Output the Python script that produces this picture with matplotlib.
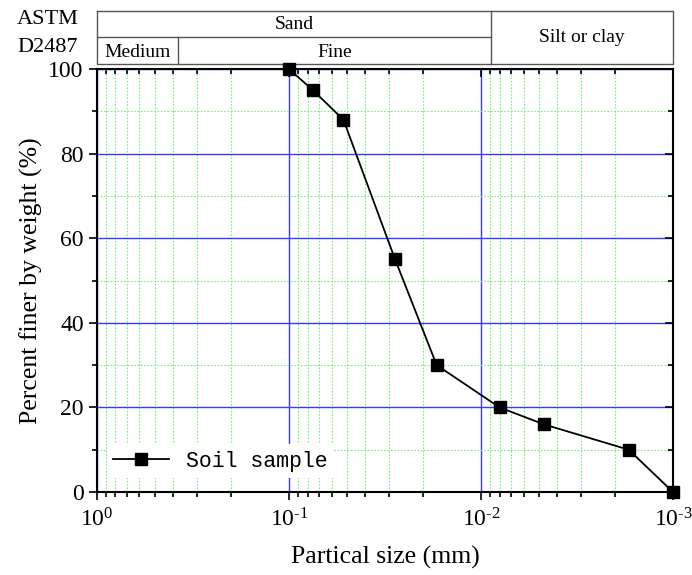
import numpy as np
import matplotlib
matplotlib.use('Agg')
import matplotlib.pyplot as plt
from matplotlib.ticker import LogLocator, FixedLocator, NullFormatter
import matplotlib.transforms as mtransforms

plt.rcParams['font.family'] = ['Liberation Serif', 'DejaVu Serif']
plt.rcParams['mathtext.fontset'] = 'custom'
plt.rcParams['mathtext.rm'] = 'Liberation Serif'
plt.rcParams['mathtext.it'] = 'Liberation Serif'

# grain size distribution of the soil sample
size_mm = [0.1, 0.075, 0.052, 0.028, 0.017, 0.008, 0.0047, 0.0017, 0.001]
finer_pct = [100, 95, 88, 55, 30, 20, 16, 10, 0]

x_ticks = [1, 0.1, 0.01, 0.001]
x_ticklabels = [r'$\mathrm{10^{0}}$', r'$\mathrm{10^{\text{-}1}}$',
                r'$\mathrm{10^{\text{-}2}}$', r'$\mathrm{10^{\text{-}3}}$']
y_ticks = [0, 20, 40, 60, 80, 100]

# ASTM D2487 classification band boundaries (mm)
medium_fine = 0.378
sand_silt = 0.00887

fig = plt.figure(figsize=(6.92, 5.75), dpi=100)
ax = fig.add_axes([0.140, 0.1443, 0.8325, 0.7357])

ax.set_xscale('log')
ax.set_xlim(1, 0.001)
ax.set_ylim(0, 100)

ax.plot(size_mm, finer_pct, color='black', lw=1.3, marker='s', ms=8,
        label='Soil sample', zorder=5, clip_on=False)

# grids
ax.xaxis.set_major_locator(FixedLocator(x_ticks))
ax.xaxis.set_minor_locator(LogLocator(base=10, subs=np.arange(2, 10)))
ax.xaxis.set_minor_formatter(NullFormatter())
ax.set_xticklabels(x_ticklabels)
ax.yaxis.set_major_locator(FixedLocator(y_ticks))
ax.yaxis.set_minor_locator(FixedLocator([10, 30, 50, 70, 90]))

ax.grid(which='major', color='#3a3aff', lw=1.0, ls='-')
ax.grid(which='minor', color='#77ee77', lw=0.8, ls=(0, (1.5, 1.5)))
ax.set_axisbelow(True)

for s in ax.spines.values():
    s.set_linewidth(1.5)

ax.tick_params(which='both', labelsize=17, width=1.2)
ax.tick_params(axis='x', which='both', direction='out', top=True)
ax.tick_params(axis='y', which='both', direction='out', right=True)
ax.tick_params(which='major', length=6)
ax.tick_params(which='minor', length=3.5)
ax.tick_params(axis='x', pad=6)
# top and right ticks point inward
for t in ax.xaxis.get_major_ticks() + ax.xaxis.get_minor_ticks():
    t.tick2line.set_marker(3)
for t in ax.yaxis.get_major_ticks() + ax.yaxis.get_minor_ticks():
    t.tick2line.set_marker(0)

ax.set_xlabel('Partical size (mm)', fontsize=18.5, labelpad=10)
ax.set_ylabel('Percent finer by weight (%)', fontsize=18.5, labelpad=4)

leg = ax.legend(loc='lower left', bbox_to_anchor=(0.017, 0.033), frameon=True,
                fancybox=False, edgecolor='none', facecolor='white',
                framealpha=1, handlelength=2.6, borderpad=0.3,
                borderaxespad=0, prop={'family': 'Liberation Mono', 'size': 15.5})

# classification header above the axes
trans = mtransforms.blended_transform_factory(ax.transData, ax.transAxes)
yt, ym, yb = 1.137, 1.0757, 1.0118
lc = '#555555'
kw = dict(transform=trans, color=lc, lw=1.0, clip_on=False)
ax.plot([1, 0.001, 0.001, 1, 1], [yt, yt, yb, yb, yt], **kw)
ax.plot([1, sand_silt], [ym, ym], **kw)
ax.plot([sand_silt, sand_silt], [yt, yb], **kw)
ax.plot([medium_fine, medium_fine], [ym, yb], **kw)

def geo_mid(a, b):
    return 10 ** ((np.log10(a) + np.log10(b)) / 2)

ax.text(geo_mid(1, sand_silt), (yt + ym) / 2, 'Sand', transform=trans,
        ha='center', va='center', fontsize=14)
ax.text(geo_mid(1, medium_fine), (ym + yb) / 2 - 0.004, 'Medium', transform=trans,
        ha='center', va='center', fontsize=14)
ax.text(geo_mid(medium_fine, sand_silt), (ym + yb) / 2 - 0.004, 'Fine', transform=trans,
        ha='center', va='center', fontsize=14)
ax.text(geo_mid(sand_silt, 0.001), (yt + yb) / 2, 'Silt or clay', transform=trans,
        ha='center', va='center', fontsize=14)
fig.text(48 / 692, 1 - 20 / 575, 'ASTM', ha='center', va='center', fontsize=16)
fig.text(48 / 692, 1 - 47 / 575, 'D2487', ha='center', va='center', fontsize=16)

fig.savefig('out.png', dpi=100)
